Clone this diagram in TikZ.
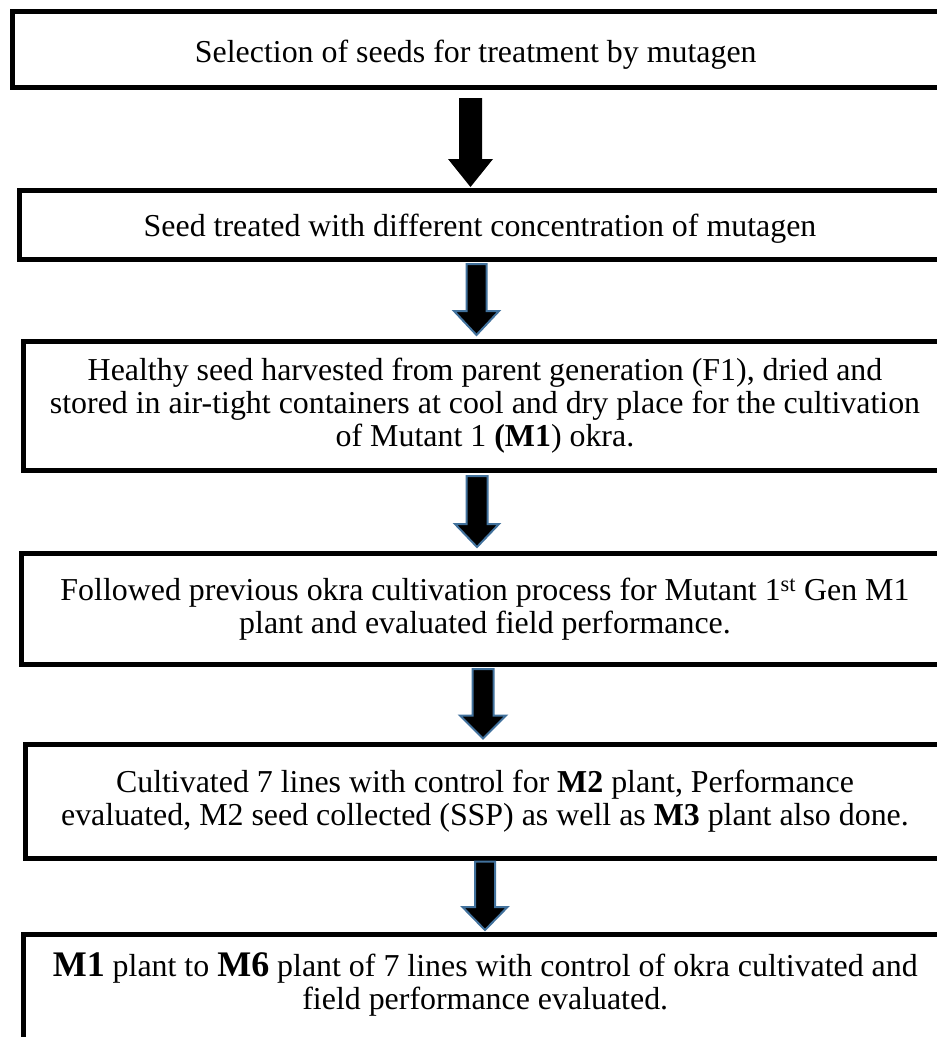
\documentclass[tikz,border=0pt]{standalone}
\usepackage{fontspec}
\setmainfont{Liberation Serif}
\usetikzlibrary{calc}
\definecolor{arrowblue}{HTML}{41719C}
\newcommand{\flowarrow}[6]{\draw[#1] let \p1=(#2), \p2=(#3) in
  (\x1-#4,\y1) -- (\x1+#4,\y1) -- (\x1+#4,\y2+#6) -- (\x1+#5,\y2+#6) --
  (\x1,\y2) -- (\x1-#5,\y2+#6) -- (\x1-#4,\y2+#6) -- cycle;}
\begin{document}
\begin{tikzpicture}[x=1pt,y=-1pt,
  box/.style={draw=black, line width=5pt, rectangle, outer sep=0pt, inner sep=0pt,
    align=center, font=\fontsize{31.9}{33}\selectfont, anchor=north west},
  blackarrow/.style={fill=black, draw=none},
  bluearrow/.style={fill=black, draw=arrowblue, line width=2pt, line join=miter}]
\useasboundingbox (0,0) rectangle (937,1037);
\clip (0,0) rectangle (937,1037);
\fill[white] (0,0) rectangle (937,1037);

\node[box, minimum width=926.5pt, minimum height=76pt, text height=34pt, text depth=7pt] (b1) at (12.5,11)
  {Selection of seeds for treatment by mutagen};
\node[box, minimum width=922pt, minimum height=69.5pt, text height=30pt, text depth=7pt] (b2) at (19,190)
  {Seed treated with different concentration of mutagen};
\node[box, minimum width=924pt, minimum height=129pt] (b3) at (23,341)
  {Healthy seed harvested from parent generation (F1), dried and\\
   stored in air-tight containers at cool and dry place for the cultivation\\
   of Mutant 1 \textbf{(M1}) okra.};
\node[box, minimum width=928pt, minimum height=111.5pt] (b4) at (21,553)
  {Followed previous okra cultivation process for Mutant 1\textsuperscript{st} Gen M1\\
   plant and evaluated field performance.};
\node[box, minimum width=920pt, minimum height=113.5pt] (b5) at (25,744.5)
  {Cultivated 7 lines with control for \textbf{M2} plant, Performance\\
   evaluated, M2 seed collected (SSP) as well as \textbf{M3} plant also done.};
\node[box, minimum width=923.5pt, minimum height=110pt, text depth=16pt] (b6) at (23.5,934)
  {{\fontsize{36}{40}\selectfont\textbf{M1}} plant to {\fontsize{36}{40}\selectfont\textbf{M6}} plant of 7 lines with control of okra cultivated and\\
   field performance evaluated.};

\coordinate (a1s) at ($(b1.south)+(-5.25,11)$);
\coordinate (a1e) at ($(b2.north)+(0,-3)$);
\coordinate (a2s) at ($(b2.south)+(-3.5,4.5)$);
\coordinate (a2e) at ($(b3.north)+(0,-6)$);
\coordinate (a3s) at ($(b3.south)+(-8,6)$);
\coordinate (a3e) at ($(b4.north)+(0,-6)$);
\coordinate (a4s) at ($(b4.south)+(-2,4.5)$);
\coordinate (a4e) at ($(b5.north)+(0,-6)$);
\coordinate (a5s) at ($(b5.south)+(0,3.5)$);
\coordinate (a5e) at ($(b6.north)+(0,-4)$);

\flowarrow{blackarrow}{a1s}{a1e}{11.5pt}{22.5pt}{28pt}
\flowarrow{bluearrow}{a2s}{a2e}{10pt}{22.5pt}{24pt}
\flowarrow{bluearrow}{a3s}{a3e}{10.5pt}{22pt}{23pt}
\flowarrow{bluearrow}{a4s}{a4e}{10.5pt}{23pt}{23pt}
\flowarrow{bluearrow}{a5s}{a5e}{10pt}{22.5pt}{23pt}
\end{tikzpicture}
\end{document}
